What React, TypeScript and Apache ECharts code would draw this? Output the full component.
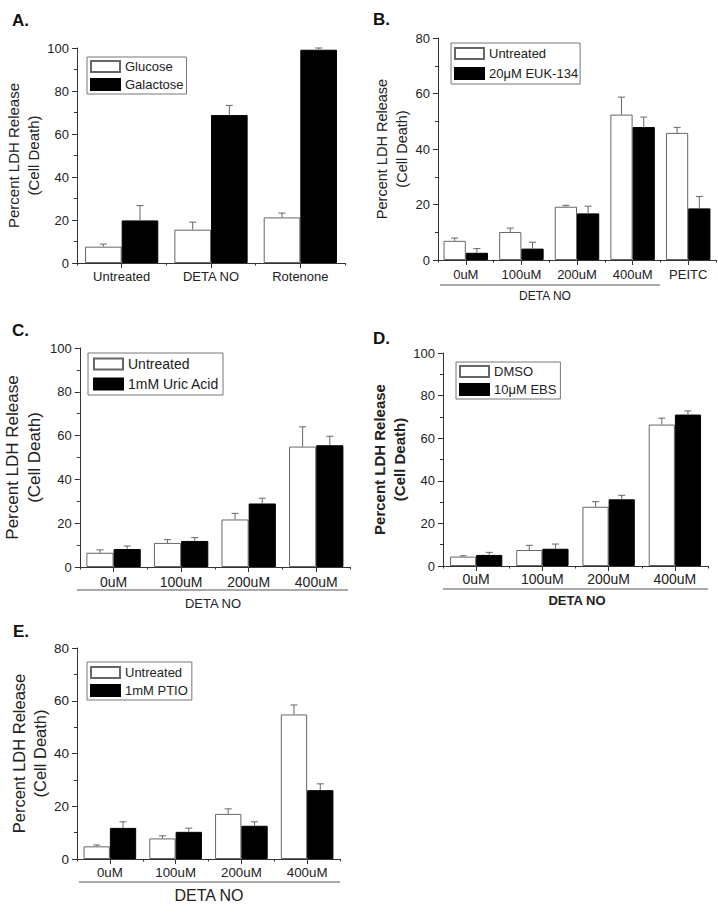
import React, { useEffect, useRef } from "react";
import * as echarts from "echarts";

// ---------- data ----------
const catsA = ["Untreated", "DETA NO", "Rotenone"];
const glucoseA = [7.6, 15.5, 21.2];
const glucoseAErr = [1.2, 3.5, 2.0];
const galactoseA = [19.8, 68.8, 99.2];
const galactoseAErr = [6.9, 4.5, 0.8];

const catsB = ["0uM", "100uM", "200uM", "400uM", "PEITC"];
const untreatedB = [6.9, 10.1, 19.2, 52.4, 45.8];
const untreatedBErr = [1.0, 1.4, 0.5, 6.3, 2.0];
const eukB = [2.6, 4.1, 16.8, 47.9, 18.6];
const eukBErr = [1.5, 2.3, 2.6, 3.6, 4.3];

const catsDose = ["0uM", "100uM", "200uM", "400uM"];
const untreatedC = [6.5, 11.0, 21.7, 55.0];
const untreatedCErr = [1.3, 1.5, 2.8, 9.0];
const uricC = [8.2, 11.9, 29.0, 55.6];
const uricCErr = [1.4, 1.5, 2.4, 4.1];

const dmsoD = [4.4, 7.5, 27.8, 66.4];
const dmsoDErr = [0.4, 2.2, 2.4, 3.0];
const ebsD = [5.2, 8.1, 31.3, 71.1];
const ebsDErr = [1.2, 2.2, 1.9, 1.7];

const untreatedE = [4.8, 7.8, 17.1, 54.8];
const untreatedEErr = [0.5, 1.0, 1.9, 3.6];
const ptioE = [11.8, 10.3, 12.6, 26.1];
const ptioEErr = [2.3, 1.4, 1.5, 2.4];

const yTitle = "Percent LDH Release\n(Cell Death)";
const FONT = "Liberation Sans, Arial, Helvetica, sans-serif";

type Panel = {
  letter: string;
  cats: string[];
  s: { name: string; values: number[]; errs: number[] }[];
  grid: { left: number; top: number; width: number; height: number };
  max: number;
  gap: number;
  xFont: number;
  yFont: number;
  titleFont: number;
  titleLH: number;
  titleGap: number;
  titleBold: boolean;
  xMargin: number;
  legend: { left: number; top: number; padding: number[]; itemGap: number; font: number };
  letterPos: [number, number];
};

const panels: Panel[] = [
  {
    letter: "A.",
    cats: catsA,
    s: [
      { name: "Glucose", values: glucoseA, errs: glucoseAErr },
      { name: "Galactose", values: galactoseA, errs: galactoseAErr },
    ],
    grid: { left: 77, top: 48, width: 268, height: 215 },
    max: 100,
    gap: 0.18,
    xFont: 13,
    yFont: 13,
    titleFont: 15,
    titleLH: 20,
    titleGap: 29,
    titleBold: false,
    xMargin: 7,
    legend: { left: 87, top: 57, padding: [3, 3, 3, 3], itemGap: 5, font: 13 },
    letterPos: [12, 20],
  },
  {
    letter: "B.",
    cats: catsB,
    s: [
      { name: "Untreated", values: untreatedB, errs: untreatedBErr },
      { name: "20\u03bcM EUK-134", values: eukB, errs: eukBErr },
    ],
    grid: { left: 438, top: 38, width: 278, height: 222 },
    max: 80,
    gap: 0.2,
    xFont: 13,
    yFont: 13,
    titleFont: 14.5,
    titleLH: 20,
    titleGap: 22,
    titleBold: false,
    xMargin: 8,
    legend: { left: 451, top: 43, padding: [4, 2, 4, 3], itemGap: 7, font: 13 },
    letterPos: [373, 19],
  },
  {
    letter: "C.",
    cats: catsDose,
    s: [
      { name: "Untreated", values: untreatedC, errs: untreatedCErr },
      { name: "1mM Uric Acid", values: uricC, errs: uricCErr },
    ],
    grid: { left: 77, top: 348, width: 273, height: 219 },
    max: 100,
    gap: 0.195,
    xFont: 14,
    yFont: 13,
    titleFont: 17,
    titleLH: 22.6,
    titleGap: 26,
    titleBold: false,
    xMargin: 8,
    legend: { left: 88, top: 353, padding: [4, 4, 4, 5], itemGap: 6, font: 14 },
    letterPos: [12, 330],
  },
  {
    letter: "D.",
    cats: catsDose,
    s: [
      { name: "DMSO", values: dmsoD, errs: dmsoDErr },
      { name: "10\u03bcM EBS", values: ebsD, errs: ebsDErr },
    ],
    grid: { left: 443, top: 353, width: 265, height: 213 },
    max: 100,
    gap: 0.21,
    xFont: 14,
    yFont: 13,
    titleFont: 15,
    titleLH: 20,
    titleGap: 21,
    titleBold: true,
    xMargin: 6,
    legend: { left: 456, top: 362, padding: [3, 4, 3, 3], itemGap: 5, font: 13 },
    letterPos: [373, 338],
  },
  {
    letter: "E.",
    cats: catsDose,
    s: [
      { name: "Untreated", values: untreatedE, errs: untreatedEErr },
      { name: "1mM PTIO", values: ptioE, errs: ptioEErr },
    ],
    grid: { left: 77, top: 648, width: 263, height: 211 },
    max: 80,
    gap: 0.2,
    xFont: 13.3,
    yFont: 13.5,
    titleFont: 16.5,
    titleLH: 21,
    titleGap: 27,
    titleBold: false,
    xMargin: 7,
    legend: { left: 87, top: 662, padding: [4, 4, 3, 3], itemGap: 5, font: 13 },
    letterPos: [13, 631],
  },
];

const groupLabels = [
  { x1: 440, x2: 660, y: 285, tx: 545, ty: 296, font: 12, bold: false },
  { x1: 77, x2: 348, y: 590, tx: 213, ty: 603, font: 13, bold: false },
  { x1: 443, x2: 708, y: 589, tx: 577, ty: 600, font: 13, bold: true },
  { x1: 79, x2: 340, y: 882, tx: 209, ty: 895, font: 16, bold: false },
];

const AXIS = "#333";
const TEXT = "#222";

function buildOption() {
  const grid: any[] = [];
  const xAxis: any[] = [];
  const yAxis: any[] = [];
  const series: any[] = [];
  const legend: any[] = [];
  const graphic: any[] = [];

  panels.forEach((p, k) => {
    grid.push({ ...p.grid, containLabel: false });
    xAxis.push({
      type: "category",
      gridIndex: k,
      data: p.cats,
      position: "bottom",
      axisLine: { show: true, lineStyle: { color: AXIS, width: 1 } },
      axisTick: { show: true, alignWithLabel: true, interval: 0, length: 5, lineStyle: { color: AXIS } },
      axisLabel: { show: true, interval: 0, fontSize: p.xFont, color: TEXT, margin: p.xMargin, fontFamily: FONT },
      splitLine: { show: false },
    });
    xAxis.push({
      type: "category",
      gridIndex: k,
      data: p.cats,
      position: "bottom",
      offset: 0,
      axisLine: { show: false },
      axisTick: { show: true, interval: 0, length: 2.5, lineStyle: { color: AXIS } },
      axisLabel: { show: false },
      splitLine: { show: false },
    });
    yAxis.push({
      type: "value",
      gridIndex: k,
      min: 0,
      max: p.max,
      interval: 20,
      axisLine: { show: true, lineStyle: { color: AXIS, width: 1 } },
      axisTick: { show: true, length: 5, lineStyle: { color: AXIS } },
      minorTick: { show: true, splitNumber: 2, length: 3, lineStyle: { color: AXIS } },
      splitLine: { show: false },
      minorSplitLine: { show: false },
      axisLabel: { fontSize: p.yFont, color: TEXT, margin: 8, fontFamily: FONT },
      name: yTitle,
      nameLocation: "middle",
      nameGap: p.titleGap,
      nameTextStyle: {
        fontSize: p.titleFont,
        lineHeight: p.titleLH,
        color: TEXT,
        fontFamily: FONT,
        fontWeight: p.titleBold ? "bold" : "normal",
      },
    });

    p.s.forEach((s, j) => {
      const fill = j === 0 ? "#ffffff" : "#000000";
      const border = j === 0 ? "#666" : "#000";
      series.push({
        type: "bar",
        name: s.name,
        xAxisIndex: 2 * k,
        yAxisIndex: k,
        data: s.values,
        barGap: "0%",
        barCategoryGap: `${p.gap * 100}%`,
        itemStyle: { color: fill, borderColor: border, borderWidth: 1 },
        emphasis: { disabled: true },
        z: 2,
      });
      const side = j === 0 ? -1 : 1;
      const gap = p.gap;
      series.push({
        type: "custom",
        xAxisIndex: 2 * k,
        yAxisIndex: k,
        data: s.values.map((v, i) => [i, v, s.errs[i]]),
        encode: { x: 0, y: 1 },
        silent: true,
        z: 3,
        renderItem: (_params: any, api: any) => {
          const i = api.value(0);
          const v = api.value(1);
          const e = api.value(2);
          const base = api.coord([i, v]);
          const top = api.coord([i, v + e]);
          const cw = api.size([1, 0])[0];
          const band = cw * (1 - gap);
          const x = base[0] + (side * band) / 4;
          const cap = 3.5;
          const st = { stroke: "#666", lineWidth: 1 };
          return {
            type: "group",
            children: [
              { type: "line", shape: { x1: x, y1: base[1], x2: x, y2: top[1] }, style: st },
              { type: "line", shape: { x1: x - cap, y1: top[1], x2: x + cap, y2: top[1] }, style: st },
            ],
          };
        },
      });
    });

    legend.push({
      data: p.s.map((s) => s.name),
      orient: "vertical",
      left: p.legend.left,
      top: p.legend.top,
      padding: p.legend.padding,
      itemGap: p.legend.itemGap,
      itemWidth: 29,
      itemHeight: 11,
      icon: "rect",
      borderColor: "#777",
      borderWidth: 1,
      selectedMode: false,
      textStyle: { fontSize: p.legend.font, color: TEXT, fontFamily: FONT, lineHeight: 11 },
    });

    graphic.push({
      type: "text",
      x: p.letterPos[0],
      y: p.letterPos[1],
      style: {
        text: p.letter,
        font: `bold 17px ${FONT}`,
        fill: "#111",
        textVerticalAlign: "middle",
        textAlign: "left",
      },
    });
  });

  groupLabels.forEach((g) => {
    graphic.push({
      type: "line",
      shape: { x1: g.x1, y1: g.y, x2: g.x2, y2: g.y },
      style: { stroke: "#555", lineWidth: 1 },
    });
    graphic.push({
      type: "text",
      x: g.tx,
      y: g.ty,
      style: {
        text: "DETA NO",
        font: `${g.bold ? "bold " : ""}${g.font}px ${FONT}`,
        fill: TEXT,
        textAlign: "center",
        textVerticalAlign: "middle",
      },
    });
  });

  return {
    animation: false,
    backgroundColor: "#ffffff",
    textStyle: { fontFamily: FONT },
    grid,
    xAxis,
    yAxis,
    series,
    legend,
    graphic,
  };
}

export default function App() {
  const ref = useRef<HTMLDivElement>(null);
  useEffect(() => {
    if (!ref.current) return;
    const chart = echarts.init(ref.current, undefined, { renderer: "svg" });
    chart.setOption(buildOption() as any);
    return () => {
      chart.dispose();
    };
  }, []);
  return (
    <div
      ref={ref}
      style={{ position: "absolute", left: 0, top: 0, width: 718, height: 924, background: "#fff" }}
    />
  );
}
